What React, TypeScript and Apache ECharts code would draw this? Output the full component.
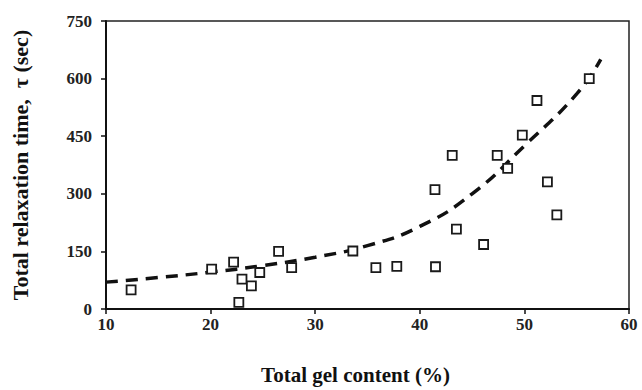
import React, { useEffect, useRef } from "react";
import * as echarts from "echarts";

const gelContent = [12.4, 20.1, 22.2, 23.0, 22.7, 23.9, 24.7, 26.5, 27.75, 33.6, 35.8, 37.8, 41.5, 41.45, 43.1, 43.5, 46.1, 47.4, 48.4, 49.8, 51.2, 52.2, 53.1, 56.2];
const relaxTime = [50, 104, 122, 78, 17, 60, 95, 150, 108, 151, 108, 111, 110, 311, 400, 208, 168, 400, 366, 453, 543, 331, 245, 600];

const trendX = [10, 15, 20, 25, 30, 35, 40, 45, 50, 55, 57.3];
const trendY = [70, 82, 96, 113, 135, 165, 215, 300, 425, 560, 650];

const xTicks = [10, 20, 30, 40, 50, 60];
const yTicks = [0, 150, 300, 450, 600, 750];

export default function App() {
  const ref = useRef<HTMLDivElement>(null);
  useEffect(() => {
    if (!ref.current) return;
    const chart = echarts.init(ref.current, null, { renderer: "svg" });
    const font = "'Liberation Serif', 'DejaVu Serif', serif";
    chart.setOption({
      animation: false,
      backgroundColor: "#ffffff",
      grid: {
        left: 106,
        right: 13,
        top: 21,
        bottom: 80,
        show: true,
        borderColor: "#222",
        borderWidth: 1.5,
        containLabel: false,
      },
      xAxis: {
        type: "value",
        min: xTicks[0],
        max: xTicks[xTicks.length - 1],
        interval: 10,
        name: "Total gel content (%)",
        nameLocation: "middle",
        nameGap: 55,
        nameTextStyle: { fontFamily: font, fontSize: 21, fontWeight: "bold", color: "#111", padding: [0, 24, 0, 0] },
        axisLine: { show: true, lineStyle: { color: "#111", width: 2 } },
        axisTick: { show: true, inside: false, length: 5, lineStyle: { color: "#111", width: 1.5 } },
        axisLabel: { fontFamily: font, fontSize: 17, fontWeight: "bold", color: "#222", margin: 7 },
        splitLine: { show: false },
      },
      yAxis: {
        type: "value",
        min: yTicks[0],
        max: yTicks[yTicks.length - 1],
        interval: 150,
        name: "Total relaxation time,  \u03c4 (sec)",
        nameLocation: "middle",
        nameGap: 75,
        nameTextStyle: { fontFamily: font, fontSize: 22, fontWeight: "bold", color: "#111" },
        axisLine: { show: true, lineStyle: { color: "#111", width: 2 } },
        axisTick: { show: true, inside: false, length: 5, lineStyle: { color: "#111", width: 1.5 } },
        axisLabel: { fontFamily: font, fontSize: 17, fontWeight: "bold", color: "#222", margin: 14 },
        splitLine: { show: false },
      },
      series: [
        {
          type: "line",
          data: trendX.map((x, i) => [x, trendY[i]]),
          smooth: true,
          showSymbol: false,
          lineStyle: { color: "#111", width: 3.5, type: [12, 8] },
          z: 2,
        },
        {
          type: "scatter",
          data: gelContent.map((x, i) => [x, relaxTime[i]]),
          symbol: "rect",
          symbolSize: 9,
          itemStyle: {
            color: "#ffffff",
            borderColor: "#1a1a1a",
            borderWidth: 1.8,
            opacity: 1,
          },
          z: 3,
        },
      ],
    });
    return () => chart.dispose();
  }, []);
  return <div ref={ref} style={{ width: 642, height: 390, position: "absolute", left: 0, top: 0 }} />;
}
